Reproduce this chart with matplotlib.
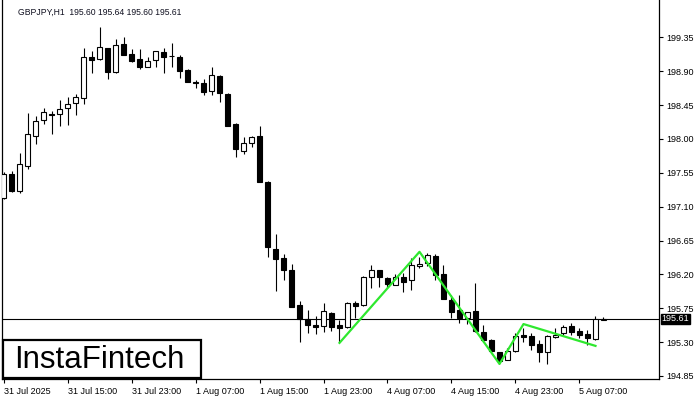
import matplotlib
matplotlib.use("Agg")
import matplotlib.pyplot as plt
from matplotlib.patches import Rectangle

plt.rcParams['font.family'] = ['Liberation Sans', 'DejaVu Sans']

# hourly GBPJPY candles
opens = [197.21, 197.53, 197.31, 197.64, 198.04, 198.25, 198.33, 198.33, 198.41, 198.48,
         198.54, 199.09, 199.06, 199.21, 198.89, 199.26, 199.13, 199.06, 198.96, 199.05,
         199.15, 199.10, 199.09, 198.92, 198.76, 198.74, 198.64, 198.84, 198.60, 198.20,
         197.84, 197.95, 198.04, 197.43, 196.54, 196.42, 196.26, 195.79, 195.61, 195.53,
         195.51, 195.69, 195.53, 195.50, 195.82, 195.79, 196.17, 196.26, 196.15, 196.06,
         196.17, 196.13, 196.31, 196.35, 196.44, 196.21, 195.86, 195.73, 195.62, 195.71,
         195.43, 195.33, 195.17, 195.06, 195.18, 195.39, 195.38, 195.28, 195.17, 195.37,
         195.42, 195.51, 195.45, 195.41, 195.34, 195.60]
highs = [197.56, 197.57, 197.81, 198.34, 198.30, 198.41, 198.37, 198.52, 198.56, 198.60,
         199.21, 199.17, 199.49, 199.21, 199.33, 199.35, 199.19, 199.19, 199.09, 199.17,
         199.21, 199.27, 199.11, 198.93, 198.78, 198.80, 198.96, 198.85, 198.61, 198.21,
         198.03, 198.04, 198.17, 197.44, 196.74, 196.47, 196.34, 195.85, 195.73, 195.65,
         195.82, 195.70, 195.59, 195.83, 195.85, 196.18, 196.32, 196.26, 196.17, 196.21,
         196.22, 196.42, 196.43, 196.48, 196.47, 196.32, 195.93, 195.93, 195.70, 196.09,
         195.53, 195.34, 195.17, 195.22, 195.42, 195.49, 195.42, 195.33, 195.39, 195.49,
         195.53, 195.55, 195.49, 195.46, 195.65, 195.64]
lows = [197.20, 197.29, 197.28, 197.60, 197.93, 198.20, 198.07, 198.17, 198.18, 198.32,
        198.46, 198.88, 199.05, 198.80, 198.88, 199.11, 199.02, 198.93, 198.96, 198.96,
        198.88, 198.96, 198.81, 198.76, 198.68, 198.58, 198.58, 198.49, 198.17, 197.76,
        197.80, 197.89, 197.43, 196.43, 195.98, 196.13, 195.77, 195.30, 195.42, 195.41,
        195.43, 195.45, 195.30, 195.49, 195.62, 195.78, 196.02, 196.03, 196.02, 196.06,
        195.97, 195.99, 196.29, 196.31, 196.13, 195.87, 195.62, 195.55, 195.54, 195.43,
        195.30, 195.17, 195.01, 195.06, 195.17, 195.30, 195.20, 195.04, 195.01, 195.35,
        195.39, 195.39, 195.35, 195.26, 195.33, 195.60]
closes = [197.53, 197.31, 197.67, 198.07, 198.24, 198.36, 198.32, 198.40, 198.46, 198.56,
          199.09, 199.05, 199.22, 198.89, 199.25, 199.11, 199.04, 198.96, 199.04, 199.17,
          199.09, 199.10, 198.90, 198.76, 198.74, 198.62, 198.85, 198.61, 198.17, 197.87,
          197.95, 198.03, 197.43, 196.56, 196.40, 196.26, 195.77, 195.61, 195.53, 195.50,
          195.71, 195.50, 195.49, 195.82, 195.78, 196.17, 196.26, 196.17, 196.07, 196.17,
          196.10, 196.32, 196.34, 196.46, 196.19, 195.87, 195.70, 195.62, 195.70, 195.45,
          195.33, 195.18, 195.05, 195.18, 195.38, 195.37, 195.26, 195.17, 195.38, 195.39,
          195.50, 195.43, 195.39, 195.35, 195.61, 195.61]

# pattern outline (bar index, price)
pattern_bars = [42, 52, 62, 65, 74]
pattern_prices = [195.29, 196.50, 195.01, 195.54, 195.25]

last_price = 195.61
header = "GBPJPY,H1  195.60 195.64 195.60 195.61"

tick_bars = [0, 8, 16, 24, 32, 40, 48, 56, 64, 72]
tick_labels = ["31 Jul 2025", "31 Jul 15:00", "31 Jul 23:00", "1 Aug 07:00", "1 Aug 15:00",
               "1 Aug 23:00", "4 Aug 07:00", "4 Aug 15:00", "4 Aug 23:00", "5 Aug 07:00"]
price_ticks = [194.85, 195.30, 195.75, 196.20, 196.65, 197.10, 197.55, 198.00, 198.45, 198.90, 199.35]

fig = plt.figure(figsize=(7, 4), dpi=100)
ax = fig.add_axes([2 / 700, 21 / 400, 657 / 700, 379 / 400])

for i in range(len(opens)):
    o, h, l, c = opens[i], highs[i], lows[i], closes[i]
    ax.vlines(i, l, h, color="black", lw=0.8, zorder=2)
    fc = "white" if c > o else "black"
    ax.bar(i, max(abs(c - o), 0.004), bottom=min(o, c), width=0.6,
           facecolor=fc, edgecolor="black", lw=0.8, zorder=3)

ax.axhline(last_price, color="black", lw=0.8, zorder=1)
ax.plot(pattern_bars, pattern_prices, color="#2ee82e", lw=1.6, zorder=4)

ax.set_xlim(-0.19, 81.94)
ax.set_ylim(194.81, 199.846)

ax.spines["top"].set_visible(False)
ax.yaxis.tick_right()
ax.set_yticks(price_ticks)
ax.set_yticklabels([f"{p:.2f}" for p in price_ticks])
ax.set_xticks(tick_bars)
ax.set_xticklabels(tick_labels, ha="left")
ax.tick_params(axis="both", direction="out", length=3, width=0.8, labelsize=6.5, pad=2)
ax.tick_params(axis="x", pad=3)
for sp in ax.spines.values():
    sp.set_linewidth(0.9)

ax.annotate(f"{last_price:.2f}", xy=(1.004, last_price), xycoords=("axes fraction", "data"),
            ha="left", va="center", fontsize=6.5, color="white",
            bbox=dict(boxstyle="square,pad=0.08", fc="black", ec="black"))

fig.text(18 / 700, 1 - 12 / 400, header, fontsize=6.2, color="#101020", va="center", ha="left")

# watermark box
fig.patches.append(Rectangle((3 / 700, 22 / 400), 198 / 700, 38 / 400, transform=fig.transFigure,
                             facecolor="white", edgecolor="black", lw=1.6, zorder=5))
fig.text(14 / 700, 1 - 360 / 400, "InstaFintech", fontsize=22.5, color="black",
         va="center", ha="left", zorder=6)

fig.savefig("out.png", dpi=100)
